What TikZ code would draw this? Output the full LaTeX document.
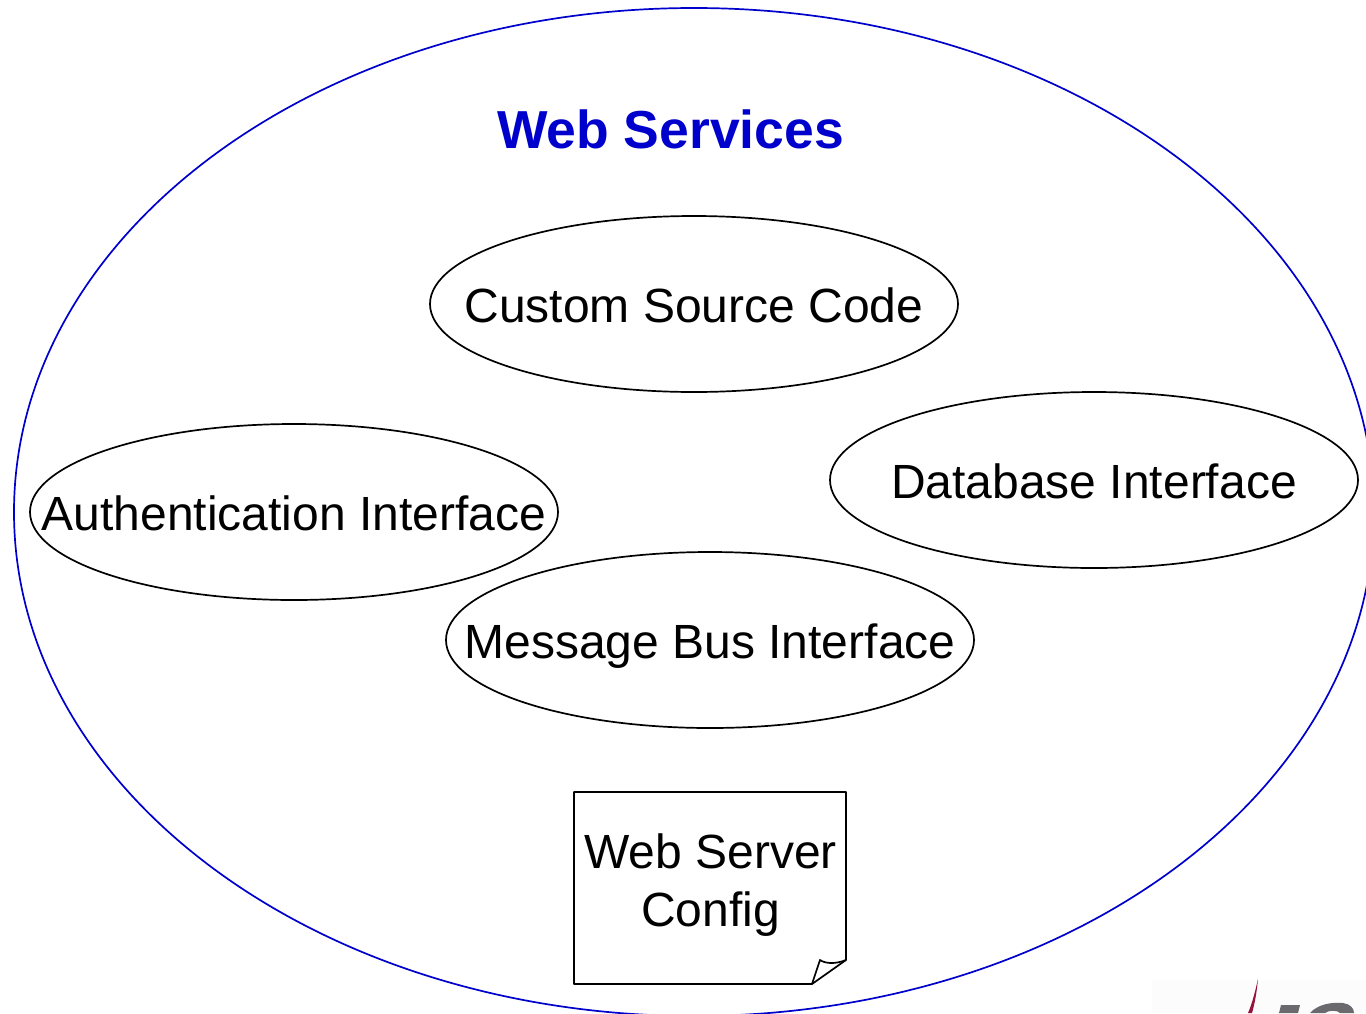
\documentclass[tikz,border=0pt]{standalone}
\usepackage{fontspec}
\setmainfont{Liberation Sans}
\usetikzlibrary{shapes.geometric}
\definecolor{wsblue}{RGB}{0,0,204}
\definecolor{logored}{RGB}{150,20,60}
\definecolor{logogray}{RGB}{105,105,110}
\tikzset{
  x=1pt,y=-1pt,
  comp/.style={draw=black,line width=1.7pt,ellipse,minimum width=528pt,minimum height=176pt,inner sep=-100pt,text height=46pt,text depth=10pt,font=\fontsize{48}{58}\selectfont},
  outer/.style={draw=wsblue,line width=1.7pt,ellipse,minimum width=1360pt,minimum height=1008pt,inner sep=0pt},
  notebox/.style={draw=black,line width=1.7pt,line join=round},
}
\begin{document}
\begin{tikzpicture}
\useasboundingbox (0,0) rectangle (1366,1013);
\fill[white] (0,0) rectangle (1366,1013);
% faint logo backdrop and logo fragment
\fill[black!1] (1152,980) rectangle (1366,1013);
\fill[logored] (1258,979) .. controls (1255,992) and (1252,1004) .. (1248,1013) -- (1252,1013) .. controls (1255,1003) and (1257,990) .. (1258,979) -- cycle;
\fill[logogray] (1279,1013) -- (1281,1005) -- (1300,1005) -- (1298,1013) -- cycle;
\fill[logogray] (1310,1013) .. controls (1318,1004) and (1332,1002) .. (1343,1003) .. controls (1350,1004) and (1354,1008) .. (1354,1013) -- (1340,1013) .. controls (1338,1010) and (1328,1010) .. (1325,1013) -- cycle;
\begin{scope}
\clip (0,0) rectangle (1366,1013);
\node[outer] (ws) at (694,512) {};
\end{scope}
\node[text=wsblue,font=\bfseries\fontsize{53.5}{60}\selectfont] (title) at (670.5,129) {Web Services};
\node[comp] (src) at (694,304) {Custom Source Code};
\node[comp] (auth) at (294,512) {Authentication Interface};
\node[comp] (db) at (1094,480) {Database Interface};
\node[comp] (bus) at (710,640) {Message Bus Interface};
% note
\draw[notebox,fill=white] (574,792) -- (846,792) -- (846,960) -- (812,984) -- (574,984) -- cycle;
\draw[notebox] (846,960) .. controls (836,964) and (826,964) .. (820,960) -- (812,984);
\node[align=center,font=\fontsize{48}{58}\selectfont] (cfg) at (710.5,885) {Web Server\\Config};
\end{tikzpicture}
\end{document}
